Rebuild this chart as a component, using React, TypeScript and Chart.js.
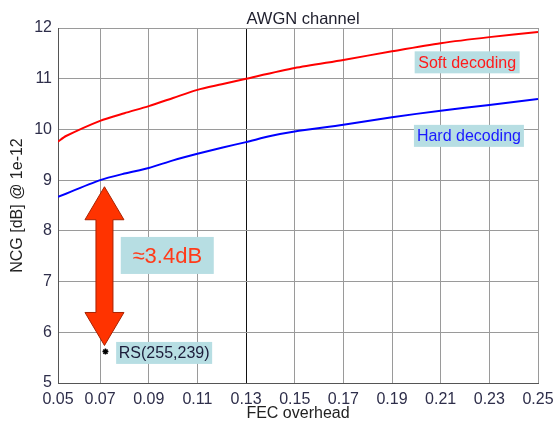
import React, { useEffect, useRef } from 'react';
import { Chart, registerables } from 'chart.js';
Chart.register(...registerables);

// Left edge of the x axis (labelled 0.05 in the original figure)
const X_LEFT = 0.0527;
const xTickValues = [X_LEFT, 0.07, 0.09, 0.11, 0.13, 0.15, 0.17, 0.19, 0.21, 0.23, 0.25];
const xTickLabels = ['0.05', '0.07', '0.09', '0.11', '0.13', '0.15', '0.17', '0.19', '0.21', '0.23', '0.25'];
const yTickValues = [5, 6, 7, 8, 9, 10, 11, 12];

const softX = [X_LEFT, 0.056, 0.07, 0.08, 0.09, 0.1, 0.11, 0.12, 0.13, 0.15, 0.17, 0.19, 0.21, 0.23, 0.25];
const softY = [9.76, 9.87, 10.17, 10.32, 10.46, 10.62, 10.78, 10.89, 11.0, 11.21, 11.37, 11.54, 11.7, 11.82, 11.92];

const hardX = [X_LEFT, 0.07, 0.08, 0.09, 0.1, 0.11, 0.12, 0.13, 0.14, 0.15, 0.17, 0.19, 0.21, 0.23, 0.25];
const hardY = [8.67, 9.0, 9.13, 9.24, 9.39, 9.52, 9.64, 9.75, 9.87, 9.96, 10.09, 10.24, 10.37, 10.48, 10.6];

const rsX = [0.0722];
const rsY = [5.62];

const ARROW_X = 0.0718;
const ARROW_TOP = 8.87;
const ARROW_BOTTOM = 5.74;

const TITLE = 'AWGN channel';
const FONT = '"Liberation Sans", Arial, sans-serif';

const annotationPlugin = {
  id: 'annots',
  beforeDatasetsDraw(chart: any) {
    const ctx = chart.ctx;
    const xs = chart.scales.x;
    const ys = chart.scales.y;
    const cx = xs.getPixelForValue(ARROW_X);
    const yt = ys.getPixelForValue(ARROW_TOP);
    const yb = ys.getPixelForValue(ARROW_BOTTOM);
    const hw = 19.5;
    const hl = 33;
    const sw = 8.5;
    ctx.save();
    ctx.beginPath();
    ctx.moveTo(cx, yt);
    ctx.lineTo(cx + hw, yt + hl);
    ctx.lineTo(cx + sw, yt + hl);
    ctx.lineTo(cx + sw, yb - hl);
    ctx.lineTo(cx + hw, yb - hl);
    ctx.lineTo(cx, yb);
    ctx.lineTo(cx - hw, yb - hl);
    ctx.lineTo(cx - sw, yb - hl);
    ctx.lineTo(cx - sw, yt + hl);
    ctx.lineTo(cx - hw, yt + hl);
    ctx.closePath();
    ctx.fillStyle = '#ff3300';
    ctx.fill();
    ctx.strokeStyle = '#a82200';
    ctx.lineWidth = 1;
    ctx.stroke();
    ctx.restore();
  },
  afterDatasetsDraw(chart: any) {
    const ctx = chart.ctx;
    const xs = chart.scales.x;
    const ys = chart.scales.y;
    const area = chart.chartArea;
    // chart title
    ctx.save();
    ctx.fillStyle = '#222230';
    ctx.font = `16.5px ${FONT}`;
    ctx.textAlign = 'center';
    ctx.textBaseline = 'alphabetic';
    ctx.fillText(TITLE, (area.left + area.right) / 2 + 5, area.top - 4);
    ctx.restore();

    const box = (xv: number, yv: number, w: number, h: number, text: string, color: string, size: number) => {
      const x = xs.getPixelForValue(xv);
      const y = ys.getPixelForValue(yv);
      ctx.save();
      ctx.fillStyle = '#b7dee3';
      ctx.fillRect(x, y, w, h);
      ctx.fillStyle = color;
      ctx.font = `${size}px ${FONT}`;
      ctx.textAlign = 'center';
      ctx.textBaseline = 'middle';
      ctx.fillText(text, x + w / 2, y + h / 2 + 1);
      ctx.restore();
    };
    box(0.1993, 11.54, 105, 22, 'Soft decoding', '#ff1a1a', 16);
    box(0.199, 10.09, 110, 22, 'Hard decoding', '#1a1aff', 16);
    box(0.0785, 7.88, 93, 37, '\u22483.4dB', '#ff3b1a', 22);
    box(0.0766, 5.81, 96, 22, 'RS(255,239)', '#1c1c3a', 16);
  },
};

export default function App() {
  const ref = useRef<HTMLCanvasElement | null>(null);
  useEffect(() => {
    if (!ref.current) return;
    const chart = new Chart(ref.current, {
      type: 'scatter',
      data: {
        datasets: [
          {
            label: 'Soft decoding',
            data: softX.map((x, i) => ({ x, y: softY[i] })),
            showLine: true,
            borderColor: '#ff0000',
            borderWidth: 2,
            pointRadius: 0,
            tension: 0.25,
          },
          {
            label: 'Hard decoding',
            data: hardX.map((x, i) => ({ x, y: hardY[i] })),
            showLine: true,
            borderColor: '#0000ff',
            borderWidth: 2,
            pointRadius: 0,
            tension: 0.25,
          },
          {
            label: 'RS(255,239)',
            data: rsX.map((x, i) => ({ x, y: rsY[i] })),
            showLine: false,
            pointStyle: 'star',
            pointRadius: 3,
            borderColor: '#000',
            backgroundColor: '#000',
            borderWidth: 1.5,
          },
        ],
      },
      options: {
        responsive: false,
        animation: false,
        layout: { padding: { left: 0, right: 17, top: 28, bottom: 0 } },
        plugins: {
          legend: { display: false },
          tooltip: { enabled: false },
          title: { display: false },
        },
        scales: {
          x: {
            type: 'linear',
            min: X_LEFT,
            max: 0.25,
            afterBuildTicks: (s: any) => {
              s.ticks = xTickValues.map((v) => ({ value: v }));
            },
            afterFit: (s: any) => {
              s.height = 40;
              s.paddingLeft = 0;
              s.paddingRight = 0;
            },
            ticks: {
              callback: (_v: any, i: number) => xTickLabels[i],
              color: '#2e2e4a',
              font: { family: FONT, size: 16 },
              padding: 7,
              maxRotation: 0,
              autoSkip: false,
            },
            grid: {
              color: (c: any) => (c.tick && Math.abs(c.tick.value - 0.13) < 1e-6 ? '#111' : '#9a9a9a'),
              drawTicks: false,
            },
            border: { color: '#555', width: 1 },
            title: {
              display: true,
              text: 'FEC overhead',
              color: '#222',
              font: { family: FONT, size: 16 },
              padding: { top: 0, bottom: 0 },
            },
          },
          y: {
            type: 'linear',
            min: 5,
            max: 12,
            afterBuildTicks: (s: any) => {
              s.ticks = yTickValues.map((v) => ({ value: v }));
            },
            afterFit: (s: any) => {
              s.width = 58;
              s.paddingTop = 0;
              s.paddingBottom = 0;
            },
            ticks: {
              color: '#2e2e4a',
              font: { family: FONT, size: 16 },
              padding: 6,
            },
            grid: { color: '#9a9a9a', drawTicks: false },
            border: { color: '#555', width: 1 },
            title: {
              display: true,
              text: 'NCG [dB] @ 1e-12',
              color: '#222',
              font: { family: FONT, size: 16 },
              padding: { top: 8, bottom: 0 },
            },
          },
        },
      },
      plugins: [annotationPlugin],
    } as any);
    return () => chart.destroy();
  }, []);
  return (
    <div style={{ position: 'absolute', left: 0, top: 0, width: 555, height: 423, background: '#fff' }}>
      <canvas ref={ref} width={555} height={423} />
    </div>
  );
}
